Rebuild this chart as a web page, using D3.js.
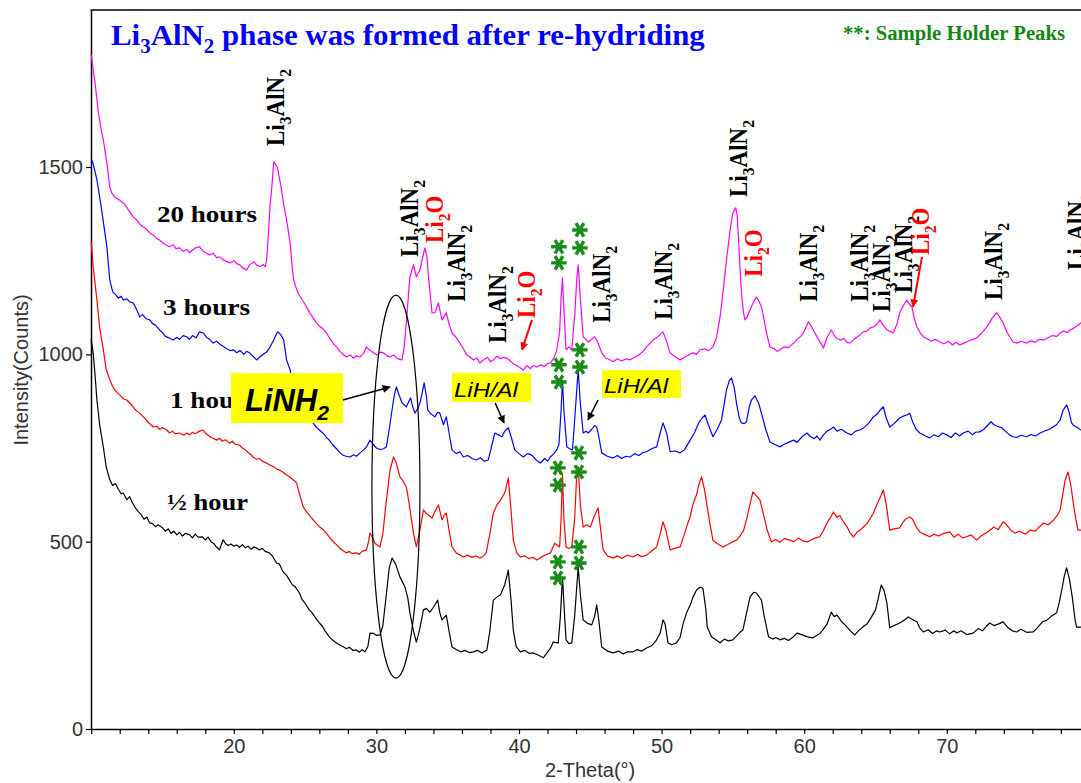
<!DOCTYPE html>
<html><head><meta charset="utf-8">
<script src="https://cdn.jsdelivr.net/npm/d3@7/dist/d3.min.js"></script>
<style>body{margin:0;background:#fff}svg{display:block}</style>
</head><body><svg id="chart" width="1081" height="783"></svg>
<script>
// ---------- DATA (2-Theta in degrees, Intensity in counts) ----------
const halfHour = [[10.0,1040],[10.15,1000],[10.3,930],[10.4,878],[10.6,810],[10.85,753],[11.05,700],[11.3,665],[11.5,650],[11.7,655],[11.9,640],[12.1,628],[12.25,630],[12.5,612],[12.7,620],[12.9,603],[13.1,590],[13.3,580],[13.5,572],[13.7,560],[13.9,566],[14.1,550],[14.3,548],[14.5,540],[14.7,545],[15.0,537],[15.2,528],[15.4,534],[15.6,522],[15.8,528],[16.0,518],[16.2,525],[16.4,515],[16.6,522],[16.9,518],[17.1,510],[17.3,520],[17.5,512],[17.8,513],[18.0,505],[18.2,512],[18.4,500],[18.6,495],[18.8,485],[19.0,478],[19.25,505],[19.4,496],[19.6,490],[19.8,494],[20.0,488],[20.2,491],[20.4,485],[20.6,492],[20.8,484],[21.0,488],[21.2,480],[21.4,486],[21.6,483],[21.8,478],[22.0,482],[22.2,474],[22.5,470],[22.7,462],[23.0,443],[23.2,440],[23.45,420],[23.7,410],[23.9,398],[24.1,385],[24.3,380],[24.6,363],[24.8,345],[25.0,335],[25.3,318],[25.5,310],[25.7,298],[26.0,283],[26.2,275],[26.4,262],[26.7,246],[26.9,238],[27.1,232],[27.4,225],[27.7,219],[27.9,214],[28.1,218],[28.35,210],[28.6,211],[28.8,205],[29.0,212],[29.2,206],[29.4,220],[29.55,256],[29.8,255],[30.0,250],[30.25,251],[30.45,275],[30.7,360],[30.9,430],[31.1,456],[31.35,440],[31.65,406],[32.0,379],[32.2,350],[32.35,310],[32.6,262],[32.8,232],[33.0,260],[33.3,318],[33.5,322],[33.75,312],[34.0,325],[34.3,344],[34.45,310],[34.6,291],[34.9,304],[35.1,260],[35.3,219],[35.6,212],[35.9,206],[36.2,210],[36.5,204],[36.8,206],[37.1,210],[37.4,203],[37.75,211],[37.95,260],[38.2,344],[38.45,352],[38.7,358],[39.0,385],[39.25,424],[39.45,340],[39.6,264],[39.8,220],[40.1,206],[40.4,210],[40.7,202],[41.0,203],[41.3,198],[41.7,190],[42.0,205],[42.2,215],[42.4,232],[42.75,230],[42.9,300],[43.05,406],[43.2,300],[43.3,238],[43.5,228],[43.7,230],[43.9,300],[44.15,432],[44.3,360],[44.5,291],[44.8,282],[45.1,278],[45.3,300],[45.45,331],[45.6,290],[45.8,219],[46.2,208],[46.6,203],[47.0,208],[47.3,200],[47.6,206],[48.0,206],[48.3,212],[48.6,208],[48.95,216],[49.3,222],[49.6,235],[49.9,256],[50.1,291],[50.25,280],[50.45,230],[50.7,225],[51.05,230],[51.3,245],[51.5,280],[51.75,310],[52.0,330],[52.2,352],[52.45,371],[52.7,379],[52.9,375],[53.1,320],[53.2,272],[53.5,246],[53.8,238],[54.1,230],[54.4,240],[54.7,235],[55.0,238],[55.3,250],[55.5,258],[55.7,264],[55.9,300],[56.2,352],[56.45,365],[56.65,363],[57.0,344],[57.2,300],[57.5,246],[57.8,240],[58.0,244],[58.3,238],[58.6,242],[58.9,236],[59.2,245],[59.5,256],[59.8,252],[60.1,248],[60.3,245],[60.6,243],[60.9,250],[61.1,255],[61.3,264],[61.6,280],[61.9,312],[62.1,300],[62.3,304],[62.6,288],[63.0,272],[63.3,260],[63.55,251],[63.8,262],[64.1,272],[64.4,280],[64.7,298],[65.0,318],[65.2,350],[65.4,384],[65.6,370],[65.8,336],[66.0,270],[66.3,276],[66.7,283],[67.0,290],[67.3,299],[67.6,292],[67.9,286],[68.1,270],[68.35,259],[68.7,265],[69.0,255],[69.3,262],[69.5,259],[69.9,264],[70.2,254],[70.5,262],[70.7,256],[71.0,262],[71.4,252],[71.85,256],[72.2,268],[72.5,262],[72.8,275],[73.0,283],[73.3,276],[73.6,280],[73.95,286],[74.3,270],[74.6,262],[74.9,259],[75.2,266],[75.6,258],[76.05,259],[76.3,268],[76.7,286],[77.0,290],[77.3,300],[77.7,310],[77.9,340],[78.1,379],[78.25,410],[78.4,430],[78.6,400],[78.8,352],[79.0,290],[79.1,272],[79.4,272],[80,272]];

const oneHour = [[10.0,1300],[10.15,1230],[10.3,1180],[10.4,1145],[10.6,1070],[10.85,1012],[11.05,960],[11.3,932],[11.5,915],[11.65,905],[11.9,895],[12.1,888],[12.3,880],[12.5,878],[12.7,870],[12.9,862],[13.1,852],[13.4,843],[13.6,835],[13.8,828],[14.0,818],[14.2,812],[14.35,806],[14.6,808],[14.8,800],[15.0,805],[15.3,798],[15.5,790],[15.7,795],[15.9,788],[16.2,790],[16.5,784],[16.7,790],[16.9,785],[17.1,792],[17.3,788],[17.6,795],[17.85,798],[18.0,790],[18.2,784],[18.4,778],[18.6,775],[18.8,771],[19.0,776],[19.2,768],[19.4,772],[19.7,763],[19.9,768],[20.1,760],[20.4,758],[20.6,750],[20.8,745],[21.0,738],[21.2,732],[21.35,726],[21.6,720],[21.8,722],[22.0,715],[22.3,710],[22.5,705],[22.8,700],[23.0,694],[23.2,691],[23.5,684],[23.7,678],[23.9,673],[24.2,664],[24.4,657],[24.6,628],[24.87,593],[25.1,580],[25.3,570],[25.57,558],[25.8,548],[26.0,540],[26.3,531],[26.5,522],[26.7,512],[27.0,499],[27.2,492],[27.4,484],[27.6,478],[27.9,470],[28.1,474],[28.3,468],[28.6,470],[28.8,466],[29.0,474],[29.3,478],[29.45,500],[29.55,523],[29.75,510],[29.9,496],[30.1,490],[30.25,486],[30.45,520],[30.7,611],[30.95,690],[31.2,726],[31.4,710],[31.65,673],[31.9,660],[32.1,646],[32.3,600],[32.6,523],[32.8,486],[33.0,520],[33.3,585],[33.5,575],[33.7,570],[33.9,563],[34.1,580],[34.35,598],[34.6,558],[34.75,570],[34.9,576],[35.1,530],[35.3,486],[35.6,470],[36.1,459],[36.4,464],[36.7,458],[37.0,462],[37.25,456],[37.5,462],[37.7,470],[37.95,520],[38.2,576],[38.45,598],[38.7,611],[39.0,630],[39.25,670],[39.45,580],[39.6,504],[39.85,470],[40.1,459],[40.4,462],[40.7,455],[41.0,458],[41.25,451],[41.6,460],[41.9,465],[42.2,470],[42.5,496],[42.7,490],[42.85,486],[42.95,560],[43.05,680],[43.15,560],[43.3,486],[43.5,482],[43.7,486],[43.9,560],[44.05,680],[44.15,700],[44.3,600],[44.5,539],[44.75,545],[45.0,539],[45.3,570],[45.55,590],[45.7,540],[45.9,478],[46.2,462],[46.6,456],[46.9,462],[47.2,455],[47.6,464],[48.0,459],[48.3,466],[48.6,460],[48.95,464],[49.3,475],[49.65,486],[49.9,520],[50.1,553],[50.3,530],[50.6,478],[50.9,482],[51.3,486],[51.6,520],[51.8,545],[52.0,566],[52.2,600],[52.45,625],[52.6,650],[52.8,673],[53.0,640],[53.2,593],[53.4,545],[53.6,504],[53.9,495],[54.3,486],[54.6,492],[54.9,498],[55.25,504],[55.5,515],[55.75,530],[55.95,558],[56.2,600],[56.4,633],[56.6,625],[56.9,611],[57.1,580],[57.4,531],[57.7,499],[58.0,506],[58.3,498],[58.6,508],[59.0,504],[59.3,500],[59.6,510],[59.9,502],[60.2,499],[60.5,505],[60.8,510],[61.1,513],[61.35,530],[61.6,550],[61.85,565],[62.05,579],[62.3,565],[62.5,570],[62.75,553],[63.0,540],[63.2,525],[63.45,513],[63.7,525],[63.9,530],[64.15,539],[64.4,548],[64.6,560],[64.85,576],[65.1,600],[65.35,620],[65.55,638],[65.75,600],[66.0,531],[66.3,534],[66.7,537],[66.9,550],[67.1,560],[67.4,566],[67.6,560],[67.85,540],[68.1,526],[68.4,520],[68.8,513],[69.1,520],[69.4,515],[69.8,522],[70.2,526],[70.5,512],[70.8,520],[71.1,510],[71.4,513],[71.7,518],[72.1,504],[72.4,515],[72.7,522],[73.0,530],[73.3,539],[73.6,532],[73.95,553],[74.2,545],[74.5,530],[74.8,523],[75.1,528],[75.5,520],[75.85,531],[76.2,528],[76.5,540],[76.8,550],[77.1,545],[77.5,558],[77.75,570],[77.95,585],[78.15,630],[78.3,665],[78.5,686],[78.7,650],[78.87,603],[79.05,560],[79.2,531],[79.5,531],[80,531]];

const threeHours = [[10.0,1520],[10.1,1514],[10.25,1490],[10.4,1466],[10.55,1430],[10.7,1394],[10.9,1340],[11.1,1287],[11.3,1199],[11.45,1175],[11.55,1164],[11.7,1160],[11.9,1150],[12.1,1155],[12.25,1145],[12.5,1148],[12.7,1140],[12.95,1137],[13.2,1118],[13.4,1100],[13.6,1106],[13.85,1095],[14.1,1092],[14.3,1082],[14.5,1078],[14.8,1065],[15.0,1058],[15.2,1048],[15.45,1044],[15.75,1038],[16.0,1045],[16.2,1040],[16.45,1050],[16.7,1047],[16.9,1040],[17.1,1050],[17.35,1044],[17.6,1060],[17.85,1057],[18.1,1045],[18.3,1040],[18.55,1030],[18.8,1035],[19.05,1026],[19.3,1020],[19.5,1015],[19.75,1010],[20.0,1012],[20.2,1004],[20.45,1010],[20.7,1000],[20.9,1008],[21.1,1004],[21.35,995],[21.6,985],[21.8,992],[22.0,998],[22.3,1006],[22.55,1020],[22.8,1038],[23.0,1055],[23.1,1060],[23.3,1052],[23.5,1038],[23.7,985],[23.95,958],[24.2,913],[24.45,880],[24.65,860],[24.9,845],[25.1,835],[25.35,825],[25.6,815],[25.8,805],[26.0,798],[26.3,788],[26.5,778],[26.7,771],[26.9,760],[27.2,748],[27.45,737],[27.7,730],[27.9,728],[28.15,726],[28.4,732],[28.6,728],[28.85,737],[29.1,745],[29.3,752],[29.55,771],[29.8,758],[30.0,750],[30.25,746],[30.5,748],[30.7,753],[30.9,800],[31.1,852],[31.25,890],[31.4,913],[31.6,890],[31.8,870],[31.95,865],[32.1,860],[32.25,872],[32.4,884],[32.55,860],[32.7,843],[32.9,855],[33.05,870],[33.2,895],[33.35,924],[33.5,890],[33.6,852],[33.8,842],[34.1,833],[34.3,845],[34.45,843],[34.7,812],[34.9,833],[35.1,790],[35.3,745],[35.6,735],[35.85,740],[36.1,726],[36.4,730],[36.7,722],[37.0,718],[37.3,724],[37.55,715],[37.85,718],[38.05,750],[38.3,790],[38.55,785],[38.8,780],[39.0,795],[39.25,804],[39.45,780],[39.7,745],[40.0,735],[40.3,726],[40.6,735],[40.9,731],[41.2,718],[41.5,710],[41.8,722],[42.0,715],[42.2,726],[42.45,735],[42.65,745],[42.8,760],[42.95,850],[43.05,930],[43.15,850],[43.35,753],[43.55,748],[43.75,745],[43.95,850],[44.15,960],[44.3,870],[44.5,790],[44.7,795],[44.85,790],[45.1,800],[45.3,810],[45.45,806],[45.6,780],[45.8,737],[46.2,728],[46.6,723],[46.9,730],[47.2,722],[47.5,728],[47.8,726],[48.1,735],[48.4,730],[48.7,738],[48.95,740],[49.3,748],[49.65,753],[49.9,790],[50.1,817],[50.35,790],[50.6,740],[50.95,742],[51.3,737],[51.6,745],[52.0,771],[52.3,790],[52.6,817],[52.85,830],[53.05,838],[53.3,810],[53.6,780],[53.9,800],[54.2,825],[54.4,870],[54.55,905],[54.75,930],[54.9,937],[55.1,910],[55.25,870],[55.45,830],[55.6,817],[55.8,815],[55.95,820],[56.15,860],[56.3,878],[56.55,889],[56.8,870],[57.0,843],[57.3,800],[57.6,766],[57.9,760],[58.3,753],[58.6,760],[58.9,765],[59.25,771],[59.5,765],[59.8,778],[60.0,785],[60.2,790],[60.45,780],[60.7,775],[60.9,782],[61.1,771],[61.35,785],[61.6,795],[61.85,800],[62.05,806],[62.3,795],[62.6,800],[63.0,790],[63.3,785],[63.6,795],[63.9,798],[64.2,805],[64.5,815],[64.85,833],[65.1,840],[65.3,850],[65.55,860],[65.75,830],[66.0,806],[66.3,815],[66.7,830],[66.95,835],[67.2,838],[67.4,843],[67.6,820],[67.85,800],[68.1,790],[68.5,782],[68.8,777],[69.1,785],[69.4,780],[69.7,790],[70.0,785],[70.3,778],[70.6,790],[70.9,782],[71.15,790],[71.5,795],[71.8,785],[72.0,792],[72.3,793],[72.6,800],[72.85,810],[73.1,820],[73.3,812],[73.55,808],[73.85,804],[74.1,795],[74.4,785],[74.65,780],[74.9,778],[75.2,784],[75.6,780],[75.9,786],[76.2,782],[76.55,790],[76.9,796],[77.2,800],[77.45,806],[77.7,812],[77.95,825],[78.15,850],[78.4,865],[78.55,850],[78.75,817],[78.9,810],[79.1,806],[79.4,798],[80,798]];

const twentyHours = [[10.0,1800],[10.05,1786],[10.15,1755],[10.27,1725],[10.4,1680],[10.5,1645],[10.7,1600],[10.85,1572],[11.0,1535],[11.1,1511],[11.2,1480],[11.3,1447],[11.45,1430],[11.65,1420],[11.85,1415],[12.05,1410],[12.25,1404],[12.45,1395],[12.7,1380],[12.95,1367],[13.15,1360],[13.4,1348],[13.65,1340],[13.85,1335],[14.1,1324],[14.3,1320],[14.55,1310],[14.8,1305],[15.0,1298],[15.25,1292],[15.5,1287],[15.75,1292],[15.95,1282],[16.2,1284],[16.45,1275],[16.7,1280],[16.9,1271],[17.1,1278],[17.35,1285],[17.6,1287],[17.85,1275],[18.1,1270],[18.3,1265],[18.55,1270],[18.8,1258],[19.0,1260],[19.25,1252],[19.5,1248],[19.75,1244],[20.0,1250],[20.2,1242],[20.4,1239],[20.65,1230],[20.9,1225],[21.1,1238],[21.4,1247],[21.6,1238],[21.85,1234],[22.05,1240],[22.2,1234],[22.3,1250],[22.4,1305],[22.55,1400],[22.65,1439],[22.8,1514],[22.95,1505],[23.05,1500],[23.2,1470],[23.35,1439],[23.5,1400],[23.7,1359],[23.95,1297],[24.1,1230],[24.2,1199],[24.35,1180],[24.5,1164],[24.8,1145],[25.1,1127],[25.3,1112],[25.55,1098],[25.8,1084],[26.0,1075],[26.25,1068],[26.5,1057],[26.7,1045],[26.95,1030],[27.2,1020],[27.45,1008],[27.65,1000],[27.9,993],[28.15,998],[28.4,990],[28.6,996],[28.85,993],[29.05,1000],[29.2,1010],[29.3,1020],[29.5,1012],[29.8,1004],[30.05,998],[30.3,1006],[30.5,1004],[30.75,996],[30.95,993],[31.2,998],[31.5,988],[31.8,985],[31.95,1020],[32.1,1084],[32.25,1160],[32.35,1207],[32.6,1239],[32.8,1207],[33.05,1225],[33.2,1250],[33.4,1284],[33.55,1260],[33.65,1207],[33.8,1150],[33.9,1111],[34.1,1111],[34.35,1137],[34.6,1092],[34.75,1100],[34.9,1111],[35.1,1080],[35.3,1057],[35.6,1045],[35.85,1030],[36.1,1015],[36.3,1000],[36.55,993],[36.8,985],[37.05,990],[37.25,977],[37.5,985],[37.8,992],[38.0,980],[38.2,985],[38.45,995],[38.7,988],[38.9,992],[39.15,990],[39.4,982],[39.6,975],[39.85,970],[40.05,965],[40.3,958],[40.55,970],[40.8,962],[41.0,970],[41.25,966],[41.5,972],[41.8,968],[42.0,975],[42.2,977],[42.45,990],[42.65,1012],[42.85,1060],[42.95,1150],[43.05,1204],[43.15,1120],[43.3,1012],[43.5,1020],[43.7,1012],[43.9,1100],[44.05,1200],[44.15,1239],[44.3,1150],[44.5,1047],[44.7,1040],[44.85,1033],[45.1,1040],[45.3,1047],[45.5,1035],[45.8,1004],[46.1,990],[46.4,985],[46.6,980],[46.9,988],[47.2,982],[47.5,988],[47.8,985],[48.1,992],[48.4,998],[48.7,1008],[48.95,1020],[49.2,1030],[49.45,1040],[49.65,1044],[49.85,1052],[50.1,1060],[50.3,1040],[50.6,1004],[50.9,995],[51.3,985],[51.6,992],[51.9,998],[52.2,1004],[52.45,1000],[52.7,1012],[53.0,1015],[53.3,1010],[53.6,1020],[53.85,1045],[54.1,1100],[54.35,1180],[54.55,1252],[54.8,1330],[55.0,1378],[55.2,1391],[55.3,1370],[55.4,1305],[55.5,1230],[55.6,1164],[55.75,1110],[55.85,1092],[56.0,1100],[56.2,1119],[56.45,1140],[56.65,1153],[56.85,1140],[57.0,1127],[57.2,1090],[57.35,1057],[57.6,1020],[57.9,1015],[58.1,1008],[58.3,1012],[58.6,1020],[58.9,1018],[59.25,1030],[59.5,1040],[59.75,1048],[59.95,1057],[60.15,1075],[60.3,1087],[60.5,1075],[60.75,1057],[61.0,1040],[61.2,1028],[61.35,1017],[61.6,1045],[61.9,1065],[62.2,1045],[62.5,1038],[62.8,1042],[63.0,1032],[63.2,1030],[63.5,1040],[63.85,1050],[64.15,1060],[64.4,1062],[64.6,1070],[64.85,1073],[65.1,1080],[65.3,1092],[65.5,1080],[65.8,1065],[66.0,1062],[66.25,1057],[66.5,1080],[66.7,1111],[66.95,1130],[67.2,1145],[67.35,1135],[67.55,1127],[67.7,1100],[67.9,1073],[68.1,1060],[68.35,1047],[68.6,1042],[68.9,1035],[69.2,1040],[69.5,1033],[69.8,1028],[70.1,1035],[70.4,1025],[70.65,1032],[70.9,1025],[71.2,1030],[71.5,1035],[71.8,1040],[72.1,1044],[72.4,1055],[72.7,1068],[73.0,1084],[73.2,1098],[73.5,1111],[73.7,1100],[73.95,1084],[74.2,1060],[74.45,1045],[74.65,1033],[74.9,1030],[75.2,1035],[75.6,1030],[75.9,1036],[76.2,1032],[76.5,1040],[76.8,1038],[77.1,1044],[77.4,1050],[77.7,1048],[77.95,1057],[78.2,1062],[78.45,1058],[78.65,1065],[78.9,1070],[79.1,1075],[79.4,1084],[80,1090]];

const seriesNames  = ["½ hour", "1 hour", "3 hours", "20 hours"];
const seriesColors = ["#000000", "#ff0000", "#0000ff", "#ff00ff"];
const xTickValues  = [10,12,14,16,18,20,22,24,26,28,30,32,34,36,38,40,42,44,46,48,50,52,54,56,58,60,62,64,66,68,70,72,74,76,78,80];
const xTickLabels  = [20,30,40,50,60,70];
const yTickValues  = [0,500,1000,1500];

// series label anchors (theta, counts)
const seriesLabelPos = [[15.32,585],[15.53,857],[15.04,1105],[14.61,1353]];
const seriesLabelWidth = [81,76,87,100];

// phase labels: text, theta, counts (bottom of rotated text)
const phaseText   = ["Li3AlN2","Li3AlN2","Li2O","Li3AlN2","Li3AlN2","Li2O","Li3AlN2","Li3AlN2","Li3AlN2","Li2O","Li3AlN2","Li3AlN2","Li3AlN2","Li3AlN2","Li2O","Li3AlN2","Li3AlN2"];
const phaseTheta  = [23.52,32.92,34.67,36.21,39.09,41.12,46.38,50.73,55.99,57.04,60.90,64.47,66.02,67.56,68.75,73.87,79.70];
const phaseCounts = [1556,1260,1297,1140,1030,1097,1084,1092,1420,1207,1140,1140,1113,1164,1265,1145,1225];

// sample-holder asterisks (theta, counts)
const starPos = [[42.80,1287],[42.80,1244],[44.27,1332],[44.27,1284],
                 [42.80,972],[42.80,926],[44.27,1012],[44.27,966],
                 [42.73,697],[42.73,651],[44.20,737],[44.20,686],
                 [42.73,446],[42.73,403],[44.20,486],[44.20,443]];

// arrows: [theta1,counts1,theta2,counts2,colour]
const arrows = [[27.65,878,30.95,913,"black"],[38.33,870,38.95,817,"black"],[45.54,878,44.84,825,"black"],
                [40.91,1092,40.21,1012,"red"],[68.26,1260,67.63,1127,"red"]];

// highlighted boxes: text, theta (left), counts (top)
const boxText   = ["LiNH2","LiH/Al","LiH/Al"];
const boxTheta  = [19.80,35.30,45.82];
const boxCounts = [950,950,958];

// ellipse around LiNH2 peak: centre theta, counts
const ellipseCentre = [31.37,647];

// ---------- DRAW ----------
const W = 1081, H = 783;
const svg = d3.select("#chart");
svg.append("rect").attr("width",W).attr("height",H).attr("fill","#fff");

const x = d3.scaleLinear().domain([10,80]).range([91.2,1089.4]);
const y = d3.scaleLinear().domain([0,1919]).range([729,10]);

const SERIF = "'Liberation Serif','Times New Roman',serif";
const SANS  = "'Liberation Sans',Arial,sans-serif";

const defs = svg.append("defs");
["black","red"].forEach(c=>{
  defs.append("marker").attr("id","ah-"+c).attr("viewBox","0 0 10 10")
    .attr("refX",9).attr("refY",5).attr("markerWidth",10).attr("markerHeight",8)
    .attr("markerUnits","userSpaceOnUse").attr("orient","auto")
    .append("path").attr("d","M0,0 L10,5 L0,10 z").attr("fill",c);
});

// axes
const gx = svg.append("g").attr("transform","translate(0,729)")
  .call(d3.axisBottom(x).tickValues(xTickValues).tickSize(5).tickSizeOuter(0).tickPadding(5)
    .tickFormat(d=>xTickLabels.includes(d)?d:""));
const gy = svg.append("g").attr("transform","translate(91,0)")
  .call(d3.axisLeft(y).tickValues(yTickValues).tickSize(5).tickSizeOuter(0).tickPadding(3)
    .tickFormat(d3.format("d")));
[gx,gy].forEach(g=>{
  g.select(".domain").attr("stroke","#000").attr("stroke-width",1.5);
  g.selectAll(".tick line").attr("stroke","#000").attr("stroke-width",1.2);
  g.selectAll(".tick text").attr("font-family",SANS).attr("font-size",20).attr("fill","#333");
});
svg.append("line").attr("x1",90.5).attr("x2",W).attr("y1",10).attr("y2",10).attr("stroke","#000").attr("stroke-width",1.5);

svg.append("text").attr("transform","translate(28,370) rotate(-90)").attr("text-anchor","middle")
  .attr("font-family",SANS).attr("font-size",20).attr("fill","#333").text("Intensity(Counts)");
svg.append("text").attr("x",545).attr("y",777).attr("font-family",SANS).attr("font-size",20).attr("fill","#333").text("2-Theta(°)");

// series lines
const line = d3.line().x(d=>x(d[0])).y(d=>y(d[1]));
const allSeries = [halfHour, oneHour, threeHours, twentyHours];
svg.append("g").selectAll("path").data(allSeries).join("path")
  .attr("d",line).attr("fill","none").attr("stroke",(d,i)=>seriesColors[i]).attr("stroke-width",1.2)
  .attr("stroke-linejoin","round");

// series labels
svg.append("g").selectAll("text").data(seriesNames).join("text")
  .attr("x",(d,i)=>x(seriesLabelPos[i][0])).attr("y",(d,i)=>y(seriesLabelPos[i][1]))
  .attr("font-family",SERIF).attr("font-weight","bold").attr("font-size",24)
  .attr("textLength",(d,i)=>seriesLabelWidth[i]).attr("lengthAdjust","spacingAndGlyphs")
  .text(d=>d);

// chemical formula helper (digits -> subscripts)
function formula(sel, str, fs){
  const parts = str.match(/\d+|\D+/g);
  let shifted = false;
  parts.forEach(p=>{
    const isSub = /\d/.test(p);
    const t = sel.append("tspan").text(p);
    if(isSub){ t.attr("font-size",fs*0.68).attr("dy",fs*0.28); shifted=true; }
    else if(shifted){ t.attr("dy",-fs*0.28); shifted=false; }
  });
}

// title
const title = svg.append("text").attr("x",111).attr("y",45).attr("font-family",SERIF)
  .attr("font-weight","bold").attr("font-size",30).attr("fill","#0000ff")
  .attr("transform","translate(111,0) scale(1.03,1) translate(-111,0)");
formula(title,"Li3AlN2",30);
title.append("tspan").attr("dy",-30*0.28).text(" phase was formed after re-hydriding");
svg.append("text").attr("x",843).attr("y",40).attr("font-family",SERIF).attr("font-weight","bold")
  .attr("font-size",20).attr("fill","#118811").attr("textLength",222).attr("lengthAdjust","spacingAndGlyphs")
  .text("**: Sample Holder Peaks");

// phase labels (rotated)
phaseText.forEach((t,i)=>{
  const red = t==="Li2O";
  const el = svg.append("text")
    .attr("transform",`translate(${x(phaseTheta[i])},${y(phaseCounts[i])}) scale(1.08,1) rotate(-90)`)
    .attr("font-family",SERIF).attr("font-weight","bold").attr("font-size",23)
    .attr("fill",red?"#ff0000":"#000");
  formula(el,t,23);
});

// ellipse
svg.append("ellipse").attr("cx",x(ellipseCentre[0])).attr("cy",y(ellipseCentre[1]))
  .attr("rx",24).attr("ry",191.5).attr("fill","none").attr("stroke","#000").attr("stroke-width",1.2);

// asterisks
const star = d3.symbol().type(d3.symbolAsterisk).size(170);
svg.append("g").selectAll("path").data(starPos).join("path")
  .attr("transform",d=>`translate(${x(d[0])},${y(d[1])}) rotate(90)`)
  .attr("d",star).attr("fill","none").attr("stroke","#1a8c1a").attr("stroke-width",3.4);

// boxes
const boxW = [112,79,79], boxH = [50,29,28];
boxText.forEach((t,i)=>{
  const bx = x(boxTheta[i]), by = y(boxCounts[i]);
  svg.append("rect").attr("x",bx).attr("y",by).attr("width",boxW[i]).attr("height",boxH[i]).attr("fill","#ffff00");
  if(i===0){
    const el = svg.append("text").attr("x",bx+14).attr("y",by+38).attr("font-family",SANS)
      .attr("font-weight","bold").attr("font-style","italic").attr("font-size",31).attr("fill","#000");
    formula(el,t,31);
  } else {
    svg.append("text").attr("x",bx+2).attr("y",by+boxH[i]-5).attr("font-family",SANS)
      .attr("font-style","italic").attr("font-size",21).attr("fill","#000")
      .attr("textLength",64).attr("lengthAdjust","spacingAndGlyphs").text(t);
  }
});

// arrows
svg.append("g").selectAll("line").data(arrows).join("line")
  .attr("x1",d=>x(d[0])).attr("y1",d=>y(d[1])).attr("x2",d=>x(d[2])).attr("y2",d=>y(d[3]))
  .attr("stroke",d=>d[4]==="red"?"#ff0000":"#000").attr("stroke-width",d=>d[4]==="red"?2:1.5)
  .attr("marker-end",d=>`url(#ah-${d[4]})`);
</script></body></html>
